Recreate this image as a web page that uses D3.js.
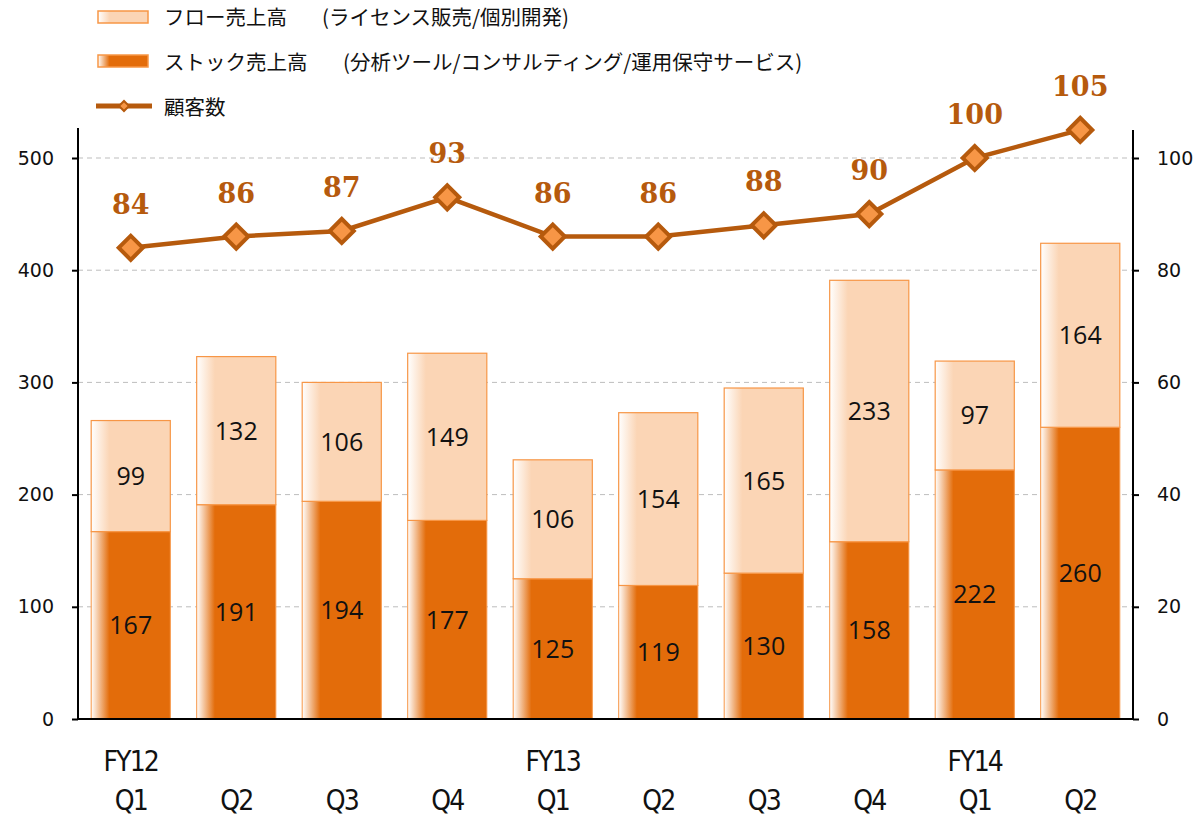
<!DOCTYPE html>
<html>
<head>
  <meta charset="utf-8">
  <script src="https://d3js.org/d3.v7.min.js"></script>
  <style>
    body { margin: 0; background: #fff; }
    .tick text { font-family: "DejaVu Sans", sans-serif; font-size: 19px; fill: #111; }
  </style>
</head>
<body>
<script>
  const width = 1196;
  const height = 817;

  const quarters = ["Q1", "Q2", "Q3", "Q4", "Q1", "Q2", "Q3", "Q4", "Q1", "Q2"];
  const years = ["FY12", "", "", "", "FY13", "", "", "", "FY14", ""];
  const stock = [167, 191, 194, 177, 125, 119, 130, 158, 222, 260];
  const flow = [99, 132, 106, 149, 106, 154, 165, 233, 97, 164];
  const customers = [84, 86, 87, 93, 86, 86, 88, 90, 100, 105];
  const leftTicks = [0, 100, 200, 300, 400, 500];
  const rightTicks = [0, 20, 40, 60, 80, 100];
  const legendNames = ["フロー売上高", "ストック売上高", "顧客数"];
  const legendNotes = ["(ライセンス販売/個別開発)", "(分析ツール/コンサルティング/運用保守サービス)", ""];

  const margin = {left: 78, right: 63, top: 128, bottom: 98};
  const x0 = margin.left, x1 = width - margin.right;
  const yBase = height - margin.bottom;

  const svg = d3.select("body").append("svg")
    .attr("width", width)
    .attr("height", height);

  const defs = svg.append("defs");
  function grad(id, color) {
    const g = defs.append("linearGradient").attr("id", id)
      .attr("x1", "0").attr("x2", "1").attr("y1", "0").attr("y2", "0");
    g.append("stop").attr("offset", "0").attr("stop-color", "#fff");
    g.append("stop").attr("offset", "0.23").attr("stop-color", color);
    g.append("stop").attr("offset", "1").attr("stop-color", color);
  }
  grad("gStock", "#E36C0A");
  grad("gFlow", "#FBD5B5");

  const x = d3.scaleBand().domain(d3.range(quarters.length))
    .range([x0, x1]).paddingInner(0.25).paddingOuter(0.125);
  const y = d3.scaleLinear().domain([0, 500]).range([yBase, 158]);
  const y2 = d3.scaleLinear().domain([0, 100]).range([yBase, 158]);
  const cx = i => x(i) + x.bandwidth() / 2;

  // grid
  svg.append("g").selectAll("line")
    .data(leftTicks.filter(d => d > 0))
    .join("line")
    .attr("x1", x0).attr("x2", x1)
    .attr("y1", d => y(d)).attr("y2", d => y(d))
    .attr("stroke", "#bdbdbd").attr("stroke-dasharray", "5,4");

  // bars
  const bars = svg.append("g");
  bars.selectAll(".stock").data(stock).join("rect")
    .attr("x", (d, i) => x(i)).attr("width", x.bandwidth())
    .attr("y", d => y(d)).attr("height", d => yBase - y(d))
    .attr("fill", "url(#gStock)").attr("stroke", "#F79646").attr("stroke-width", 1);
  bars.selectAll(".flow").data(flow).join("rect")
    .attr("x", (d, i) => x(i)).attr("width", x.bandwidth())
    .attr("y", (d, i) => y(stock[i] + d)).attr("height", (d, i) => y(stock[i]) - y(stock[i] + d))
    .attr("fill", "url(#gFlow)").attr("stroke", "#F79646").attr("stroke-width", 1.2);

  const labelFont = "'Open Sans', sans-serif";
  bars.selectAll(".sl").data(stock).join("text")
    .attr("x", (d, i) => cx(i))
    .attr("y", d => (y(d) + yBase) / 2 + 9)
    .attr("text-anchor", "middle").attr("font-family", labelFont)
    .attr("font-size", 25).attr("fill", "#111").text(d => d);
  bars.selectAll(".fl").data(flow).join("text")
    .attr("x", (d, i) => cx(i))
    .attr("y", (d, i) => (y(stock[i]) + y(stock[i] + d)) / 2 + 9)
    .attr("text-anchor", "middle").attr("font-family", labelFont)
    .attr("font-size", 25).attr("fill", "#111").text(d => d);

  // axes
  const axL = svg.append("g").attr("transform", `translate(${x0},0)`)
    .call(d3.axisLeft(y).tickValues(leftTicks).tickSize(6).tickPadding(18));
  axL.select(".domain").remove();
  axL.selectAll(".tick line").attr("stroke", "#000").attr("stroke-width", 2);
  axL.append("line").attr("x1", 0).attr("x2", 0).attr("y1", margin.top).attr("y2", yBase + 1)
    .attr("stroke", "#000").attr("stroke-width", 2);

  const axR = svg.append("g").attr("transform", `translate(${x1},0)`)
    .call(d3.axisRight(y2).tickValues(rightTicks).tickSize(6).tickPadding(18));
  axR.select(".domain").remove();
  axR.selectAll(".tick line").attr("stroke", "#000").attr("stroke-width", 2);
  axR.append("line").attr("x1", 0).attr("x2", 0).attr("y1", 130).attr("y2", yBase + 1)
    .attr("stroke", "#000").attr("stroke-width", 2);

  svg.append("line").attr("x1", x0).attr("x2", x1).attr("y1", yBase).attr("y2", yBase)
    .attr("stroke", "#000").attr("stroke-width", 2);

  // category labels
  const catFont = "'DejaVu Sans Condensed', 'DejaVu Sans', sans-serif";
  svg.append("g").selectAll("text").data(years).join("text")
    .attr("x", (d, i) => cx(i)).attr("y", 771)
    .attr("text-anchor", "middle").attr("font-family", catFont)
    .attr("font-size", 28).attr("letter-spacing", -1.8).attr("fill", "#111").text(d => d);
  svg.append("g").selectAll("text").data(quarters).join("text")
    .attr("x", (d, i) => cx(i)).attr("y", 810)
    .attr("text-anchor", "middle").attr("font-family", catFont)
    .attr("font-size", 28).attr("letter-spacing", -1.8).attr("fill", "#111").text(d => d);

  // customers line
  const lineColor = "#B65A0D";
  const line = d3.line()
    .x((d, i) => cx(i))
    .y(d => y2(d));
  svg.append("path").datum(customers)
    .attr("d", line).attr("fill", "none")
    .attr("stroke", lineColor).attr("stroke-width", 4.5);
  const sym = d3.symbol().type(d3.symbolSquare).size(290);
  svg.append("g").selectAll("path").data(customers).join("path")
    .attr("d", sym)
    .attr("transform", (d, i) => `translate(${cx(i)},${y2(d)}) rotate(45)`)
    .attr("fill", "#F79646").attr("stroke", lineColor).attr("stroke-width", 4);
  svg.append("g").selectAll("text").data(customers).join("text")
    .attr("x", (d, i) => cx(i))
    .attr("y", d => y2(d) - 34)
    .attr("text-anchor", "middle")
    .attr("font-family", "'DejaVu Serif', 'Liberation Serif', serif")
    .attr("font-weight", "bold").attr("font-size", 27).attr("fill", lineColor)
    .text(d => d);

  // legend
  const leg = svg.append("g");
  const legFont = "'Noto Sans CJK JP', sans-serif";
  leg.append("rect").attr("x", 98).attr("y", 11).attr("width", 50).attr("height", 12)
    .attr("fill", "url(#gFlow)").attr("stroke", "#F79646").attr("stroke-width", 1.5);
  leg.append("rect").attr("x", 98).attr("y", 55).attr("width", 50).attr("height", 12)
    .attr("fill", "url(#gStock)").attr("stroke", "#F79646").attr("stroke-width", 1.5);
  leg.append("line").attr("x1", 96).attr("x2", 152).attr("y1", 106).attr("y2", 106)
    .attr("stroke", lineColor).attr("stroke-width", 5);
  leg.append("path").attr("d", d3.symbol().type(d3.symbolSquare).size(50))
    .attr("transform", "translate(124,106) rotate(45)")
    .attr("fill", "#F79646").attr("stroke", lineColor).attr("stroke-width", 2);
  const noteX = [322, 343, 0];
  const lt = leg.selectAll("text").data(legendNames).join("text")
    .attr("x", 164).attr("y", (d, i) => 25 + i * 45)
    .attr("font-family", legFont).attr("font-size", 20.5).attr("fill", "#111");
  lt.append("tspan").text(d => d);
  lt.append("tspan").attr("x", (d, i) => noteX[i]).text((d, i) => legendNotes[i]);
</script>
</body>
</html>
